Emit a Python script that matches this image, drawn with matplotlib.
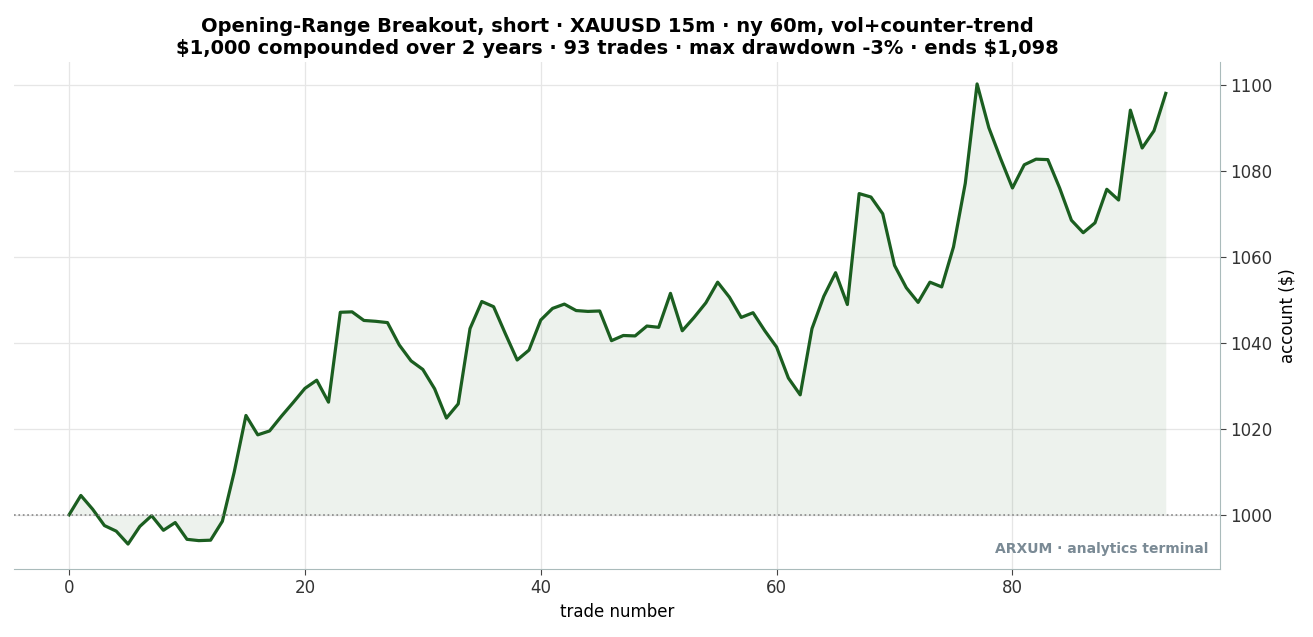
import matplotlib
matplotlib.use("Agg")
import matplotlib.pyplot as plt
import numpy as np

plt.rcParams["text.parse_math"] = False

equity = [1000, 1004.5, 1001.3, 997.5, 996.2, 993.2, 997.3, 999.8, 996.4, 998.2,
          994.3, 994.0, 994.1, 998.5, 1009.9, 1023.1, 1018.6, 1019.5, 1022.9, 1026.1,
          1029.4, 1031.3, 1026.2, 1047.1, 1047.2, 1045.2, 1045.0, 1044.7, 1039.5, 1035.8,
          1033.8, 1029.3, 1022.5, 1025.8, 1043.3, 1049.6, 1048.4, 1042.1, 1036.0, 1038.3,
          1045.3, 1048.0, 1049.0, 1047.5, 1047.3, 1047.4, 1040.5, 1041.7, 1041.6, 1043.9,
          1043.6, 1051.5, 1042.8, 1045.9, 1049.3, 1054.1, 1050.6, 1045.9, 1047.0, 1042.8,
          1039.0, 1031.8, 1027.9, 1043.3, 1050.8, 1056.3, 1048.9, 1074.7, 1073.9, 1070.0,
          1058.0, 1052.8, 1049.4, 1054.1, 1053.0, 1062.3, 1077.1, 1100.2, 1090.0, 1082.8,
          1076.0, 1081.4, 1082.7, 1082.6, 1076.0, 1068.5, 1065.6, 1067.9, 1075.7, 1073.2,
          1094.1, 1085.3, 1089.3, 1098.0]
start = 1000
title = ("Opening-Range Breakout, short · XAUUSD 15m · ny 60m, vol+counter-trend\n"
         "$1,000 compounded over 2 years · 93 trades · max drawdown -3% · ends $1,098")

x = np.arange(len(equity))
fig = plt.figure(figsize=(13.13, 6.37), dpi=100)
ax = fig.add_axes([14/1313, 1-569/637, (1220-14)/1313, (569-62)/637])
green = "#1b5e20"
ax.fill_between(x, start, equity, color=green, alpha=0.08, linewidth=0)
ax.plot(x, equity, color=green, lw=2.3)
ax.axhline(start, color="#888888", ls=":", lw=1.2)
ax.set_xlim(-4.67, 97.6)
ax.set_ylim(987.4, 1105.3)
ax.yaxis.tick_right()
ax.yaxis.set_label_position("right")
ax.set_ylabel("account ($)", fontsize=12)
ax.set_xlabel("trade number", fontsize=12)
ax.set_xticks([0, 20, 40, 60, 80])
ax.set_yticks([1000, 1020, 1040, 1060, 1080, 1100])
ax.tick_params(labelsize=12, colors="#444444", length=4)
ax.tick_params(axis="both", labelcolor="#333333")
ax.grid(True, color="#e6e6e6", lw=0.9)
ax.set_axisbelow(True)
for s in ["top", "left"]:
    ax.spines[s].set_visible(False)
for s in ["bottom", "right"]:
    ax.spines[s].set_color("#aabbbb")
ax.set_title(title, fontsize=14, fontweight="bold", pad=6)
ax.text(0.99, 0.025, "ARXUM · analytics terminal", transform=ax.transAxes,
        ha="right", va="bottom", fontsize=10, fontweight="bold", color="#7a8a95")
fig.savefig("out.png", dpi=100)
